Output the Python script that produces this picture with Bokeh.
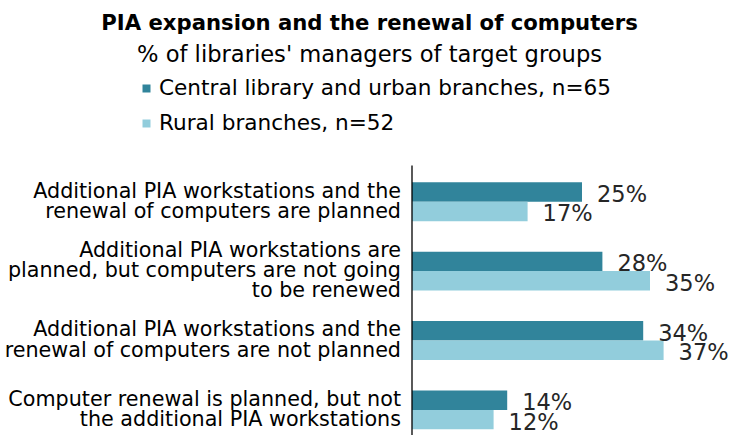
from bokeh.plotting import figure
from bokeh.models import Range1d, Label, Legend, LegendItem, ColumnDataSource
from bokeh.transform import dodge
from bokeh.core.properties import value
from bokeh.embed import file_html
from bokeh.resources import INLINE

# ---- data ----
title = "PIA expansion and the renewal of computers"
subtitle = "% of libraries' managers of target groups"
categories = [
    "Additional PIA workstations and the\nrenewal of computers are planned",
    "Additional PIA workstations are\nplanned, but computers are not going\nto be renewed",
    "Additional PIA workstations and the\nrenewal of computers are not planned",
    "Computer renewal is planned, but not\nthe additional PIA workstations",
]
series_names = ["Central library and urban branches, n=65", "Rural branches, n=52"]
central = [25, 28, 34, 14]
rural = [17, 35, 37, 12]
colors = ["#31849B", "#92CDDC"]

# ---- layout constants (screen px, from top-left of canvas) ----
W, H = 730, 435
PX_PER_PCT = 6.8
AXIS_X = 411.5
ROW0 = 201.2
PITCH = 69.4
AXIS_TOP_PX = 165
FONT = value("DejaVu Sans")

x0 = -AXIS_X / PX_PER_PCT
x1 = x0 + W / PX_PER_PCT
y_top = -ROW0 / PITCH
y_bot = (H - ROW0) / PITCH
axis_top = (AXIS_TOP_PX - ROW0) / PITCH

pos = list(range(len(categories)))
src = ColumnDataSource(dict(
    pos=pos, cat=categories, central=central, rural=rural,
    central_lbl=[f"{v}%" for v in central],
    rural_lbl=[f"{v}%" for v in rural],
))

p = figure(width=W, height=H, output_backend="svg", toolbar_location=None,
           x_range=Range1d(x0, x1), y_range=Range1d(y_bot, y_top),
           x_axis_location=None, y_axis_location=None, min_border=0)
p.grid.visible = False
p.outline_line_color = None
p.background_fill_color = "white"
p.border_fill_color = "white"

BAR_H = 0.28
r1 = p.hbar(y=dodge("pos", -BAR_H / 2), left=0, right="central", height=BAR_H,
            fill_color=colors[0], line_color=None, source=src)
r2 = p.hbar(y=dodge("pos", BAR_H / 2), left=0, right="rural", height=BAR_H,
            fill_color=colors[1], line_color=None, source=src)

# axis line
p.segment(x0=0, y0=axis_top, x1=0, y1=y_bot, line_color="black", line_width=1.3)

# value labels
for col, lbl, off in (("central", "central_lbl", -BAR_H / 2), ("rural", "rural_lbl", BAR_H / 2)):
    p.text(x=col, y=dodge("pos", off), text=lbl, source=src, x_offset=15, y_offset=2,
           text_align="left", text_baseline="middle", text_font=FONT,
           text_font_size=value("22.5px"), text_color="#262626")

# category labels
p.text(x=0, y="pos", text="cat", source=src, x_offset=-11, y_offset=-1,
       text_align="right", text_baseline="middle", text_font=FONT,
       text_font_size=value("20.7px"), text_line_height=0.85, text_color="black")

# title & subtitle
p.add_layout(Label(x=369, y=H - 22, x_units="screen", y_units="screen", text=title,
                   text_align="center", text_baseline="alphabetic", text_font="DejaVu Sans",
                   text_font_style="bold", text_font_size="21.2px", text_color="black"))
p.add_layout(Label(x=369, y=H - 53, x_units="screen", y_units="screen", text=subtitle,
                   text_align="center", text_baseline="alphabetic", text_font="DejaVu Sans",
                   text_font_size="22.6px", text_color="black"))

legend = Legend(items=[LegendItem(label=series_names[0], renderers=[r1]),
                       LegendItem(label=series_names[1], renderers=[r2])],
                location=(141, H - 135), orientation="vertical",
                glyph_width=10, glyph_height=10, label_standoff=8,
                padding=0, margin=0, spacing=10,
                border_line_color=None, background_fill_alpha=0,
                label_text_font="DejaVu Sans", label_text_font_size="21.6px",
                label_text_color="black")
p.add_layout(legend)

open("out.html", "w").write(file_html(p, INLINE))
